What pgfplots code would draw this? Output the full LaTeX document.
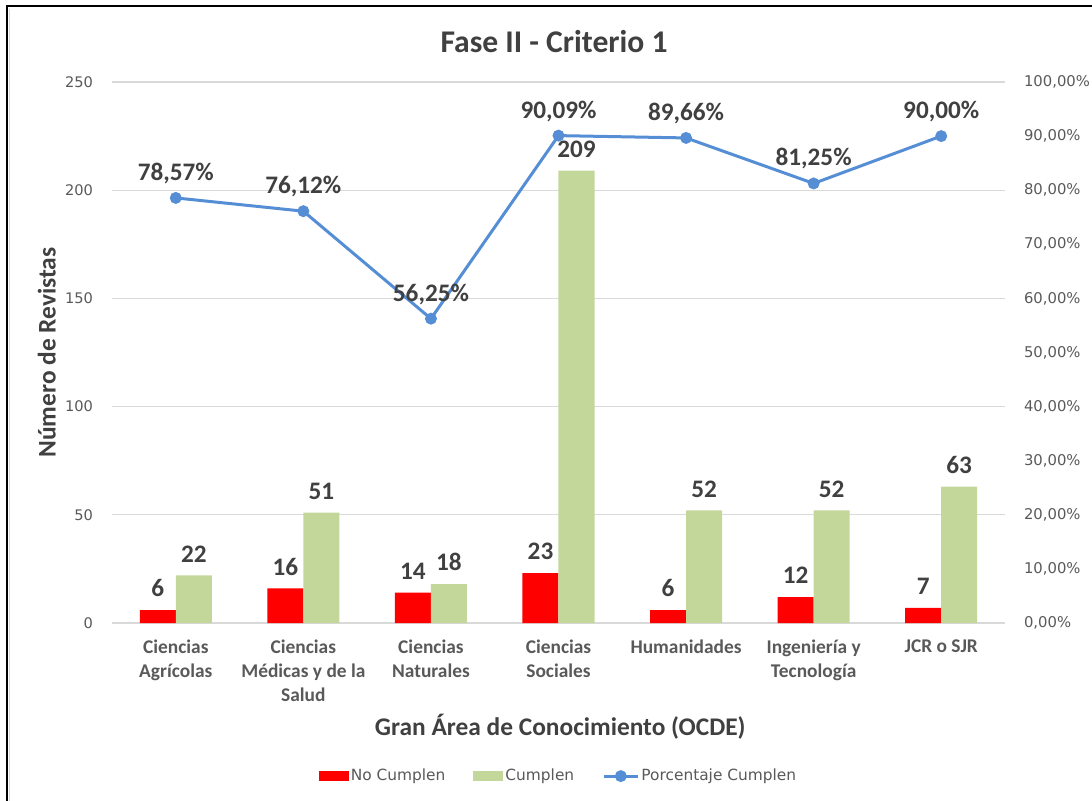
\documentclass[border=0pt]{standalone}
\usepackage{pgfplots}
\pgfplotsset{compat=1.18}
\usepackage{fontspec}
\setmainfont{Carlito}
\newfontfamily\verd{DejaVu Sans}
\definecolor{cred}{HTML}{FF0000}
\definecolor{cgreen}{HTML}{C4D79B}
\definecolor{cblue}{HTML}{558ED5}
\definecolor{tgray}{HTML}{595959}
\definecolor{dgray}{HTML}{404040}
\definecolor{gridc}{HTML}{D9D9D9}
\pgfplotsset{mybox/.style={legend image code/.code={\fill[##1] (0pt,-2.6pt) rectangle (15pt,2.6pt);}}}
\begin{document}
\begin{tikzpicture}
\useasboundingbox (0,0) rectangle (546pt,-400.5pt);
\draw[line width=1.4pt] (3.5pt,-400.5pt) -- (3.5pt,-3pt) -- (546pt,-3pt);
\draw[gridc,line width=0.5pt] (4.8pt,-400.5pt) -- (4.8pt,-4.3pt);
\begin{axis}[
  at={(56pt,-311.5pt)}, anchor=south west,
  scale only axis, width=446.5pt, height=270.5pt,
  xmin=-0.5, xmax=6.5, ymin=0, ymax=250,
  ytick={0,50,...,250},
  xtick={0,...,6},
  xticklabels={{Ciencias\\Agrícolas},{Ciencias\\Médicas y de la\\Salud},{Ciencias\\Naturales},{Ciencias\\Sociales},{Humanidades},{Ingeniería y\\Tecnología},{JCR o SJR}},
  xticklabel style={align=center, font=\fontsize{9.7}{12}\selectfont\bfseries, text=tgray, yshift=-5pt},
  yticklabel style={font=\verd\fontsize{7.3}{9}\selectfont, text=tgray, xshift=-6pt},
  /pgf/number format/assume math mode=true,
  major tick length=0pt,
  axis line style={draw=none},
  xmajorgrids=false, ymajorgrids=true, grid style={draw=gridc, line width=0.6pt},
  ybar=0pt, bar width=18pt,
  nodes near coords,
  every node near coord/.append style={font=\fontsize{12.6}{14}\selectfont\bfseries, text=dgray, yshift=3pt},
  title={Fase II - Criterio 1},
  every axis title/.style={at={(axis description cs:0.495,1.075)}, anchor=center, font=\fontsize{15.8}{18}\selectfont\bfseries, text=dgray},
  xlabel={Gran Área de Conocimiento (OCDE)},
  xlabel style={at={(axis description cs:0.502,-0.192)}, anchor=center, font=\fontsize{12.7}{15}\selectfont\bfseries, text=dgray},
  ylabel={Número de Revistas},
  ylabel style={at={(axis description cs:-0.073,0.5)}, anchor=center, font=\fontsize{12.7}{15}\selectfont\bfseries, text=dgray},
  legend style={at={(axis description cs:0.5,-0.283)}, anchor=center, draw=none, legend columns=3,
     font=\verd\fontsize{7.7}{9}\selectfont, text=tgray,
     nodes={inner sep=1pt},
     /tikz/every even column/.append style={column sep=13pt}},
]
\addplot[fill=cred, draw=none, mybox]
  coordinates {(0,6) (1,16) (2,14) (3,23) (4,6) (5,12) (6,7)};
\addlegendentry{No Cumplen}
\addplot[fill=cgreen, draw=none, mybox]
  coordinates {(0,22) (1,51) (2,18) (3,209) (4,52) (5,52) (6,63)};
\addlegendentry{Cumplen}
\addlegendimage{cblue, line width=1.5pt, mark=*, mark size=2.2pt, mark options={fill=cblue}, line legend, sharp plot}
\addlegendentry{Porcentaje Cumplen}
\end{axis}
\begin{axis}[
  at={(56pt,-311.5pt)}, anchor=south west,
  scale only axis, width=446.5pt, height=270.5pt,
  xmin=-0.5, xmax=6.5, ymin=0, ymax=100,
  hide x axis,
  axis y line*=right,
  axis line style={draw=none},
  major tick length=0pt,
  ytick={0,10,...,100},
  yticklabels={{0,00\%},{10,00\%},{20,00\%},{30,00\%},{40,00\%},{50,00\%},{60,00\%},{70,00\%},{80,00\%},{90,00\%},{100,00\%}},
  yticklabel style={font=\verd\fontsize{7.4}{9}\selectfont, text=tgray, xshift=6pt},
  nodes near coords, point meta=explicit symbolic,
  every node near coord/.append style={font=\fontsize{12.6}{14}\selectfont\bfseries, text=dgray, yshift=3pt},
]
\addplot[cblue, line width=1.5pt, mark=*, mark size=2.2pt, mark options={fill=cblue}]
  coordinates {(0,78.57) [{78,57\%}] (1,76.12) [{76,12\%}] (2,56.25) [{56,25\%}] (3,90.09) [{90,09\%}] (4,89.66) [{89,66\%}] (5,81.25) [{81,25\%}] (6,90.00) [{90,00\%}]};
\end{axis}
\end{tikzpicture}
\end{document}
